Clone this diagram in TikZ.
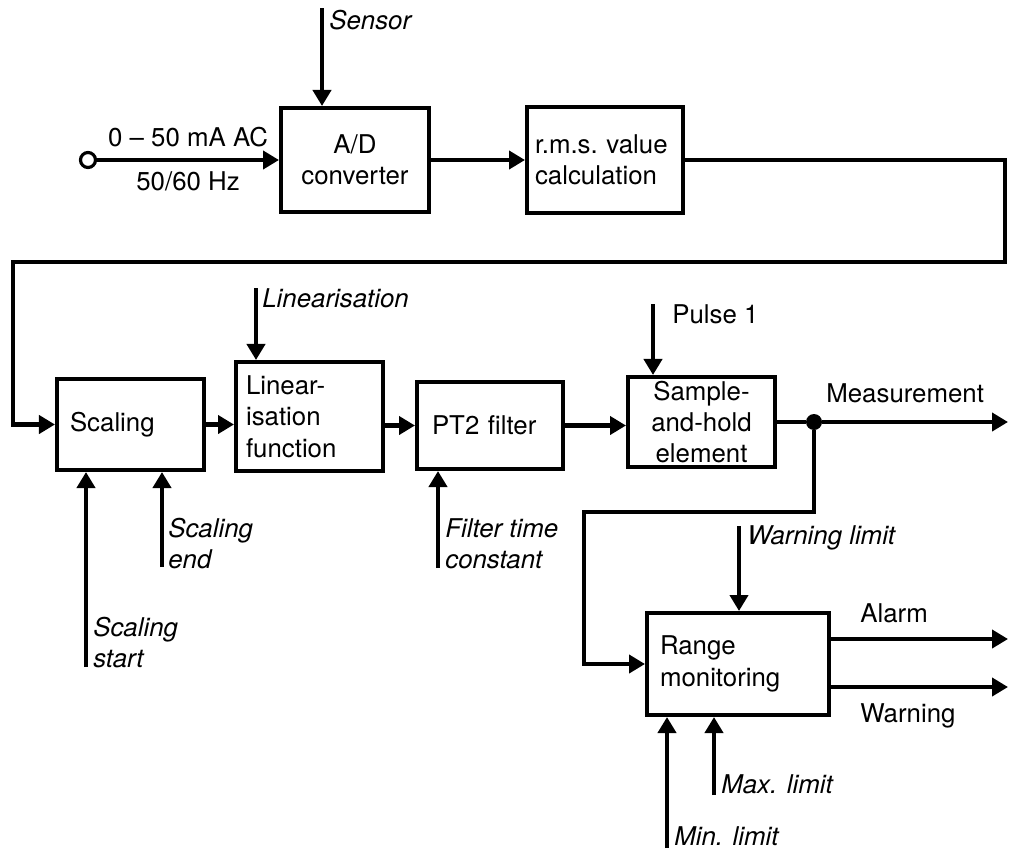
\documentclass[tikz,border=0pt]{standalone}
\usepackage{fontspec}
\setmainfont{TeX Gyre Heros}
\usetikzlibrary{arrows.meta}

\begin{document}
\begin{tikzpicture}[x=0.02cm,y=-0.02cm,
  every node/.style={font=\fontsize{14.7}{17.8}\selectfont},
  blk/.style={draw,line width=2.3pt,inner ysep=0pt},
  lbl/.style={anchor=base west,align=left,inner sep=0pt,font=\fontsize{14.7}{17.6}\selectfont\itshape},
  txt/.style={anchor=base west,inner sep=0pt},
  arr/.style={line width=2.3pt,-{Triangle[length=0.32cm,width=0.36cm]}},
  wire/.style={line width=2.3pt}]

\useasboundingbox (0,0) rectangle (1013,852);

% blocks
\node[blk,minimum width=2.96cm,minimum height=2.08cm,align=center] (ad) at (355,160) {A/D\\converter};
\node[blk,minimum height=2.12cm,inner xsep=0.16cm,text width=2.8cm,align=left] (rms) at (605,160) {r.m.s.\ value\\calculation};
\node[blk,minimum height=1.82cm,inner xsep=0.26cm,text width=2.42cm,align=left] (scal) at (130.5,424.5) {Scaling};
\node[blk,minimum height=2.18cm,inner xsep=0.2cm,text width=2.54cm,align=left] (lin) at (309.5,416.5) {Linear-\\isation\\function};
\node[blk,minimum height=1.74cm,inner xsep=0.3cm,text width=2.32cm,align=left] (pt2) at (490,425.5) {PT2 filter};
\node[blk,minimum width=2.94cm,minimum height=1.80cm,align=center] (sh) at (701.5,422) {Sample-\\and-hold\\element};
\node[blk,minimum height=2.04cm,inner xsep=0.26cm,text width=3.12cm,align=left] (rng) at (738,664) {Range\\monitoring};

% input
\node[circle,draw,line width=1.8pt,minimum size=0.3cm,inner sep=0pt] (in) at (88,160) {};
\draw[arr] (in) -- (ad.west)
  node[midway,above=3pt] (ac) {0 -- 50 mA AC}
  node[midway,below=2pt] (hz) {50/60 Hz};
\draw[arr] (ad.east) -- (ad.east -| rms.west);

% feedback to scaling
\coordinate (c1) at (1005,262);
\coordinate (c2) at (13,262);
\draw[arr] (rms.east) -| (c1) -- (c2) |- (scal.west);

% chain
\draw[arr] (scal.east) -- (scal.east -| lin.west);
\draw[arr] (pt2.west -| lin.east) -- (pt2.west);
\draw[arr] (pt2.east) -- (pt2.east -| sh.west);

% outputs
\node[circle,fill,minimum size=0.32cm,inner sep=0pt] (dot) at (814,422) {};
\coordinate (mout) at (1008,422);
\draw[wire] (sh.east) -- (dot);
\draw[arr] (dot) -- (mout);
\coordinate (br) at (584,512);
\draw[arr] (dot) |- (br) |- (rng.west);
\coordinate (alm) at (1008,639);
\coordinate (wrn) at (1008,687);
\draw[arr] (alm -| rng.east) -- (alm);
\draw[arr] (wrn -| rng.east) -- (wrn);

% side inputs
\coordinate (sens) at (322,8);
\coordinate (lins) at (256,288);
\coordinate (sst) at (86,667);
\coordinate (send) at (162,567);
\coordinate (ftc) at (438,568);
\coordinate (pls) at (653,304);
\coordinate (wlim) at (739,526);
\coordinate (mnl) at (667,848);
\coordinate (mxl) at (714,795);
\draw[arr] (sens) -- (sens |- ad.north);
\draw[arr] (lins) -- (lins |- lin.north);
\draw[arr] (sst) -- (sst |- scal.south);
\draw[arr] (send) -- (send |- scal.south);
\draw[arr] (ftc) -- (ftc |- pt2.south);
\draw[arr] (pls) -- (pls |- sh.north);
\draw[arr] (wlim) -- (wlim |- rng.north);
\draw[arr] (mnl) -- (mnl |- rng.south);
\draw[arr] (mxl) -- (mxl |- rng.south);

% labels
\node[lbl] (lsens) at (329,30) {Sensor};
\node[lbl] (llin) at (262,307) {Linearisation};
\node[lbl] (lsend) at (168,568) {Scaling\\end};
\node[lbl] (lsst) at (93,667) {Scaling\\start};
\node[lbl] (lftc) at (445,568) {Filter time\\constant};
\node[lbl] (lwlim) at (747,544) {Warning limit};
\node[lbl] (lmxl) at (721,793) {Max. limit};
\node[lbl] (lmnl) at (674,845) {Min. limit};
\node[txt] (lpls) at (672,323) {Pulse 1};
\node[txt] (lmeas) at (826,402) {Measurement};
\node[txt] (lalm) at (860,622) {Alarm};
\node[txt] (lwrn) at (860,722) {Warning};
\end{tikzpicture}
\end{document}
